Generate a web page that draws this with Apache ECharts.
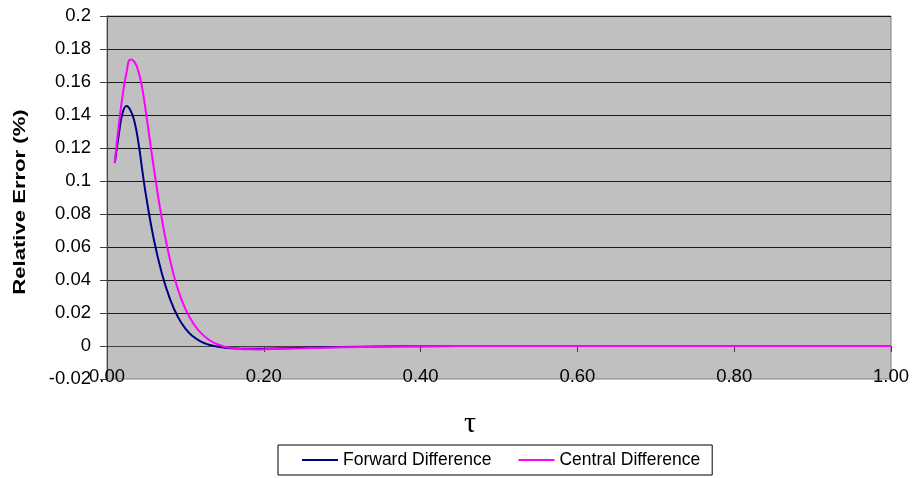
<!DOCTYPE html>
<html>
<head>
<meta charset="utf-8">
<script src="https://cdn.jsdelivr.net/npm/echarts@6/dist/echarts.min.js"></script>
<style>
  html, body { margin: 0; padding: 0; background: #fff; }
  #chart { width: 912px; height: 478px; }
</style>
</head>
<body>
<div id="chart"></div>
<script>
// Dimensionless time τ at which the relative error was evaluated
const tau = [0.01, 0.015, 0.02, 0.025, 0.03, 0.035, 0.04, 0.045, 0.05, 0.06, 0.07, 0.08, 0.09, 0.10,
             0.11, 0.12, 0.13, 0.14, 0.15, 0.16, 0.17, 0.18, 0.19, 0.20,
             0.25, 0.30, 0.35, 0.40, 0.50, 0.60, 0.70, 0.80, 0.90, 1.00];

// Relative error (%) of the forward-difference scheme
const forwardDiff = [0.111, 0.128, 0.1415, 0.1455, 0.1428, 0.136, 0.1235, 0.1065, 0.0905, 0.064, 0.044, 0.029, 0.018, 0.0105,
                     0.0057, 0.0026, 0.0008, -0.0003, -0.0010, -0.0014, -0.0016, -0.0017, -0.0017, -0.0016,
                     -0.0011, -0.0006, -0.0003, -0.0001, 0, 0, 0, 0, 0, 0];

// Relative error (%) of the central-difference scheme
const centralDiff = [0.111, 0.134, 0.152, 0.166, 0.1736, 0.1722, 0.1665, 0.156, 0.1405, 0.107, 0.077, 0.053, 0.035, 0.0225,
                     0.0138, 0.0078, 0.0038, 0.0012, -0.0004, -0.0013, -0.0018, -0.0020, -0.0021, -0.0020,
                     -0.0014, -0.0008, -0.0004, -0.0001, 0, 0, 0, 0, 0, 0];

const seriesNames = ['Forward Difference', 'Central Difference'];
const yTitle = 'Relative Error (%)';
const xTitle = 'τ';

const pairs = (ys) => tau.map((t, i) => [t, ys[i]]);

const chart = echarts.init(document.getElementById('chart'), null, { renderer: 'canvas' });
const baseFont = '"Liberation Sans", Arial, sans-serif';

chart.setOption({
  animation: false,
  backgroundColor: '#ffffff',
  grid: {
    left: 107, right: 20, top: 16, bottom: 99,
    show: true,
    backgroundColor: '#c0c0c0',
    borderColor: '#808080',
    borderWidth: 1
  },
  xAxis: {
    type: 'value',
    min: 0, max: 1, interval: 0.2,
    axisLine: { onZero: true, lineStyle: { color: '#404040', width: 1 } },
    axisTick: { show: true, length: 6, lineStyle: { color: '#404040' } },
    axisLabel: {
      margin: -12,
      color: '#000',
      fontSize: 18.5,
      fontFamily: baseFont,
      formatter: (v) => v.toFixed(2)
    },
    splitLine: { show: false }
  },
  yAxis: {
    type: 'value',
    min: -0.02, max: 0.2, interval: 0.02,
    axisLine: { show: true, lineStyle: { color: '#404040', width: 1 } },
    axisTick: { show: true, length: 7, lineStyle: { color: '#404040' } },
    axisLabel: {
      margin: 16,
      color: '#000',
      fontSize: 18.5,
      fontFamily: baseFont
    },
    splitLine: {
      show: true,
      showMinLine: false,
      lineStyle: { color: '#1a1a1a', width: 1 }
    }
  },
  legend: {
    data: seriesNames,
    left: 278,
    top: 445,
    orient: 'horizontal',
    icon: 'rect',
    itemWidth: 36,
    itemHeight: 2,
    itemGap: 27,
    padding: [6, 12, 6, 24],
    borderColor: '#000',
    borderWidth: 1,
    textStyle: { color: '#000', fontSize: 17.5, fontFamily: baseFont }
  },
  graphic: [
    {
      type: 'text',
      x: 20, y: 202,
      rotation: Math.PI / 2,
      scaleX: 1.3,
      style: {
        text: yTitle,
        fill: '#000',
        fontSize: 17,
        fontWeight: 'bold',
        fontFamily: baseFont,
        align: 'center', verticalAlign: 'middle',
        textAlign: 'center', textVerticalAlign: 'middle'
      }
    },
    {
      type: 'text',
      x: 470, y: 424,
      style: {
        text: xTitle,
        fill: '#000',
        fontSize: 30,
        fontFamily: '"Liberation Serif", "Times New Roman", serif',
        align: 'center', verticalAlign: 'middle',
        textAlign: 'center', textVerticalAlign: 'middle'
      }
    }
  ],
  series: [
    {
      name: seriesNames[0],
      type: 'line',
      data: pairs(forwardDiff),
      smooth: 0.5,
      symbol: 'none',
      lineStyle: { color: '#000080', width: 2 },
      itemStyle: { color: '#000080' }
    },
    {
      name: seriesNames[1],
      type: 'line',
      data: pairs(centralDiff),
      smooth: 0.5,
      symbol: 'none',
      lineStyle: { color: '#ff00ff', width: 2 },
      itemStyle: { color: '#ff00ff' }
    }
  ]
});
</script>
</body>
</html>
